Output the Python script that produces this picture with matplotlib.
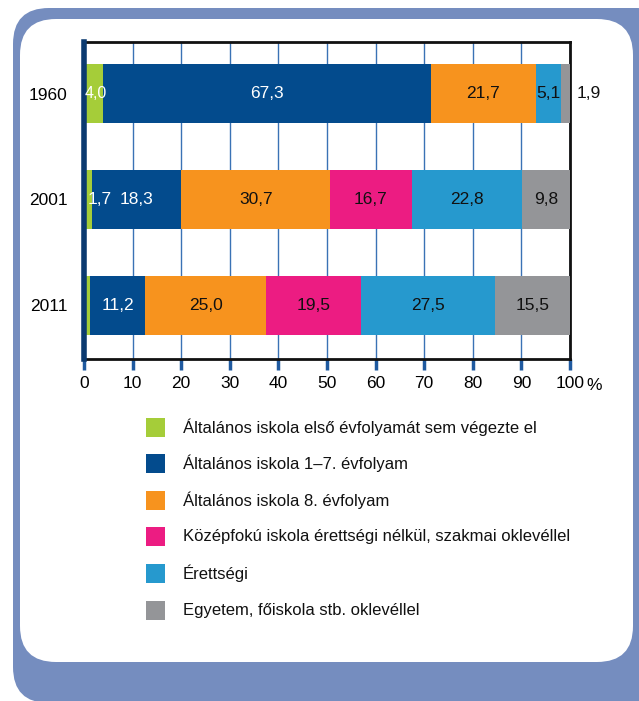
import matplotlib.pyplot as plt
from matplotlib.patches import FancyBboxPatch, Rectangle
import numpy as np

# Données (pourcentages par année)
years = ['1960', '2001', '2011']
categories = [
    'Általános iskola első évfolyamát sem végezte el',
    'Általános iskola 1–7. évfolyam',
    'Általános iskola 8. évfolyam',
    'Középfokú iskola érettségi nélkül, szakmai oklevéllel',
    'Érettségi',
    'Egyetem, főiskola stb. oklevéllel',
]
v_elso = [4.0, 1.7, 1.3]
v_1_7 = [67.3, 18.3, 11.2]
v_8 = [21.7, 30.7, 25.0]
v_kozep = [0.0, 16.7, 19.5]
v_erett = [5.1, 22.8, 27.5]
v_egyetem = [1.9, 9.8, 15.5]
series = [v_elso, v_1_7, v_8, v_kozep, v_erett, v_egyetem]
# étiquettes affichées (None = pas d'étiquette, 'out' = à droite de la barre)
shown = [
    ['4,0', '1,7', None],
    ['67,3', '18,3', '11,2'],
    ['21,7', '30,7', '25,0'],
    [None, '16,7', '19,5'],
    ['5,1', '22,8', '27,5'],
    ['out', '9,8', '15,5'],
]
colors = ['#a5cd39', '#034b8d', '#f7931e', '#ec1c82', '#2699ce', '#949598']
text_colors = ['white', 'white', '#111111', '#111111', '#111111', '#111111']
xticks = [0, 10, 20, 30, 40, 50, 60, 70, 80, 90, 100]

FONT = ['Liberation Sans', 'DejaVu Sans']
plt.rcParams['font.family'] = FONT

fig = plt.figure(figsize=(6.39, 7.01), dpi=100)

# Cadre de fond
bg = fig.add_axes([0, 0, 1, 1], zorder=-1)
bg.set_xlim(0, 639)
bg.set_ylim(701, 0)
bg.axis('off')
bg.add_patch(FancyBboxPatch((13, 8), 660, 695, boxstyle='round,pad=0,rounding_size=36',
                            facecolor='#758dbf', edgecolor='none'))
bg.add_patch(FancyBboxPatch((20, 19), 613, 643, boxstyle='round,pad=0,rounding_size=36',
                            facecolor='white', edgecolor='none'))

# Légende manuelle
for i, (lab, col) in enumerate(zip(categories, colors)):
    yc = 427 + i * 36.6
    bg.add_patch(Rectangle((146, yc - 9.5), 19, 19, facecolor=col, edgecolor='none'))
    bg.text(183, yc, lab, fontsize=12, va='center', ha='left', color='#111111')

# Graphique en barres empilées
ax = fig.add_axes([84 / 639, 1 - 359 / 701, 486 / 639, 317 / 701])
ypos = np.arange(len(years))
left = np.zeros(len(years))
for k, vals in enumerate(series):
    vals = np.array(vals)
    ax.barh(ypos, vals, left=left, height=0.56, color=colors[k], edgecolor='none', zorder=3)
    for j in range(len(years)):
        lab = shown[k][j]
        if lab is None:
            continue
        if lab == 'out':
            ax.text(101.4, ypos[j], f'{vals[j]:.1f}'.replace('.', ','), fontsize=12.5,
                    va='center', ha='left', color='#111111')
        elif vals[j] < 3:
            ax.text(left[j] + vals[j] * 0.45, ypos[j], lab, fontsize=12.5,
                    va='center', ha='left', color=text_colors[k], zorder=6)
        else:
            ax.text(left[j] + vals[j] / 2 + (0.4 if k == 0 else 0), ypos[j], lab,
                    fontsize=12.5 if k else 11.5,
                    va='center', ha='center', color=text_colors[k], zorder=6)
    left = left + vals

ax.set_xlim(0, 100)
ax.set_ylim(2.505, -0.486)
ax.set_yticks(ypos)
ax.set_yticklabels(years, fontsize=12.5)
ax.tick_params(axis='y', length=0, pad=12)
ax.set_xticks(xticks)
ax.set_xticklabels([str(t) for t in xticks], fontsize=12.5)
ax.tick_params(axis='x', length=8, width=2.5, color='#1f5aa0', pad=4)
ax.text(103.3, -0.085, '%', transform=ax.get_xaxis_transform(), fontsize=12.5,
        ha='left', va='center')
ax.grid(axis='x', color='#3a72b5', linewidth=1.0, zorder=0)
for s in ['top', 'right', 'bottom']:
    ax.spines[s].set_color('#111111')
    ax.spines[s].set_linewidth(2)
ax.spines['left'].set_color('#0b3a70')
ax.spines['left'].set_linewidth(4)
ax.spines['left'].set_zorder(5)

fig.savefig('out.png', dpi=100)
